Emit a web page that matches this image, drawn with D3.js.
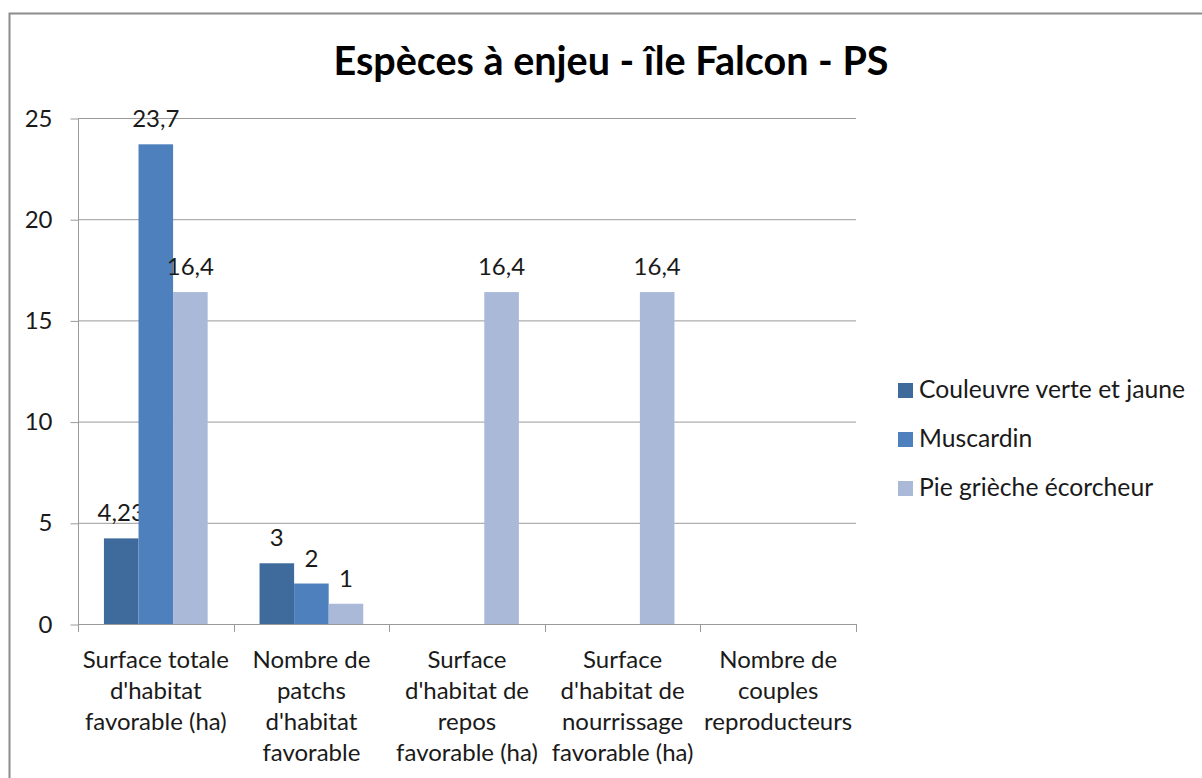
<!DOCTYPE html>
<html>
<head>
<meta charset="utf-8">
<script src="https://cdn.jsdelivr.net/npm/d3@7"></script>
<style>
  html, body { margin: 0; padding: 0; background: #fff; }
  svg { display: block; font-family: Lato, "Open Sans", "DejaVu Sans", sans-serif; }
</style>
</head>
<body>
<svg id="chart" width="1202" height="778"></svg>
<script>
// Chart data
const categories = [
  ["Surface totale", "d'habitat", "favorable (ha)"],
  ["Nombre de", "patchs", "d'habitat", "favorable"],
  ["Surface", "d'habitat de", "repos", "favorable (ha)"],
  ["Surface", "d'habitat de", "nourrissage", "favorable (ha)"],
  ["Nombre de", "couples", "reproducteurs"]
];
const seriesNames = ["Couleuvre verte et jaune", "Muscardin", "Pie grièche écorcheur"];
const couleuvre = [4.23, 3, null, null, null];
const muscardin = [23.7, 2, null, null, null];
const pieGrieche = [16.4, 1, 16.4, 16.4, null];
const seriesValues = [couleuvre, muscardin, pieGrieche];
const seriesColors = ["#3F6A9C", "#4D80BD", "#A9B9D7"];
const yTicks = [0, 5, 10, 15, 20, 25];
const title = "Espèces à enjeu - île Falcon - PS";

const FS = 24;
const svg = d3.select("#chart");

// outer frame
svg.append("rect")
  .attr("x", 9.5).attr("y", 13.5)
  .attr("width", 1210).attr("height", 800)
  .attr("fill", "#fff").attr("stroke", "#8c8c8c").attr("stroke-width", 2);

// title
svg.append("text")
  .attr("x", 611).attr("y", 75)
  .attr("text-anchor", "middle")
  .attr("font-size", 39.5).attr("font-weight", "bold").attr("fill", "#000")
  .text(title);

const plot = { left: 78, right: 856, top: 118, bottom: 624 };

const x = d3.scaleBand()
  .domain(d3.range(categories.length))
  .range([plot.left, plot.right])
  .paddingInner(0).paddingOuter(0);

// gap of 150% of a bar width: band = 4.5 bar widths, group = 3 bar widths
const barW = x.bandwidth() / 4.5;
const xs = d3.scaleBand()
  .domain(d3.range(seriesNames.length))
  .range([barW * 0.75, barW * 3.75]);

const y = d3.scaleLinear().domain([0, 25]).range([plot.bottom, plot.top]);

// horizontal gridlines
svg.append("g").selectAll("line")
  .data(yTicks.filter(t => t > 0))
  .join("line")
  .attr("x1", plot.left).attr("x2", plot.right)
  .attr("y1", d => y(d) + 0.5).attr("y2", d => y(d) + 0.5)
  .attr("stroke", "#9a9a9a").attr("stroke-width", 1);

// y axis
const yAxis = d3.axisLeft(y).tickValues(yTicks).tickSize(8).tickPadding(18)
  .tickFormat(d3.format("d"));
const gy = svg.append("g").attr("transform", `translate(${plot.left + 0.5},0.5)`).call(yAxis);
gy.select(".domain").attr("stroke", "#9a9a9a").attr("d", `M0,${plot.top}V${plot.bottom}`);
gy.selectAll(".tick line").attr("stroke", "#9a9a9a");
gy.selectAll(".tick text").attr("font-size", FS).attr("fill", "#1a1a1a")
  .attr("font-family", "Lato, 'Open Sans', sans-serif");

// bars
const groups = svg.append("g").selectAll("g")
  .data(seriesValues)
  .join("g")
  .attr("fill", (d, i) => seriesColors[i]);

groups.selectAll("rect")
  .data((vals, si) => vals.map((v, ci) => ({ v, ci, si })).filter(d => d.v != null))
  .join("rect")
  .attr("x", d => x(d.ci) + xs(d.si))
  .attr("width", xs.bandwidth())
  .attr("y", d => y(d.v))
  .attr("height", d => y(0) - y(d.v));

// value labels
const fmt = v => String(v).replace(".", ",");
groups.selectAll("text")
  .data((vals, si) => vals.map((v, ci) => ({ v, ci, si })).filter(d => d.v != null))
  .join("text")
  .attr("x", d => x(d.ci) + xs(d.si) + xs.bandwidth() / 2)
  .attr("y", d => y(d.v) - 17)
  .attr("text-anchor", "middle")
  .attr("font-size", FS).attr("fill", "#1a1a1a")
  .text(d => fmt(d.v));

// x axis baseline and ticks
const gx = svg.append("g");
gx.append("line")
  .attr("x1", plot.left).attr("x2", plot.right)
  .attr("y1", plot.bottom + 0.5).attr("y2", plot.bottom + 0.5)
  .attr("stroke", "#9a9a9a");
gx.selectAll("line.tk")
  .data(d3.range(categories.length + 1))
  .join("line").attr("class", "tk")
  .attr("x1", i => Math.round(plot.left + i * x.bandwidth()) + 0.5)
  .attr("x2", i => Math.round(plot.left + i * x.bandwidth()) + 0.5)
  .attr("y1", plot.bottom).attr("y2", plot.bottom + 8)
  .attr("stroke", "#9a9a9a");

// category labels
gx.selectAll("text.cat")
  .data(categories)
  .join("text").attr("class", "cat")
  .attr("x", (d, i) => x(i) + x.bandwidth() / 2)
  .attr("y", 668)
  .attr("text-anchor", "middle")
  .attr("font-size", FS).attr("fill", "#1a1a1a")
  .selectAll("tspan")
  .data(d => d)
  .join("tspan")
  .attr("x", function() { return this.parentNode.getAttribute("x"); })
  .attr("dy", (d, i) => i === 0 ? 0 : 31)
  .text(d => d);

// legend
const legend = svg.append("g").selectAll("g")
  .data(seriesNames)
  .join("g")
  .attr("transform", (d, i) => `translate(898,${390 + i * 49})`);
legend.append("rect")
  .attr("x", 0).attr("y", -7).attr("width", 15).attr("height", 15)
  .attr("fill", (d, i) => seriesColors[i]);
legend.append("text")
  .attr("x", 21).attr("y", 8)
  .attr("font-size", 24.7).attr("fill", "#1a1a1a")
  .text(d => d);
</script>
</body>
</html>
